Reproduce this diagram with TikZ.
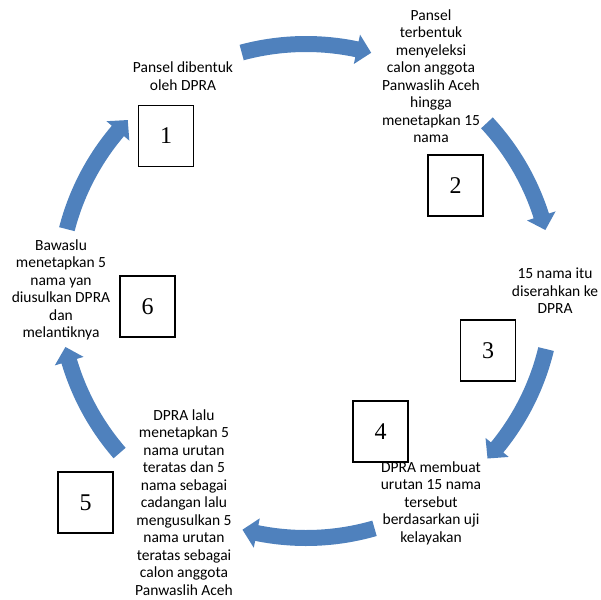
\documentclass[tikz,border=0pt]{standalone}
\usepackage{fontspec}
\setmainfont{Carlito}
\newfontfamily\numfont{Liberation Serif}
\definecolor{arrowblue}{RGB}{79,129,189}
\newcommand\cycarrow[2]{%
 \pgfmathsetmacro\ha{#2-3.4}%
 \fill[arrowblue] plot[domain=#1:\ha,samples=30] ({306+255*cos(\x)},{291+255*sin(\x)})
   -- ({306+262*cos(\ha)},{291+262*sin(\ha)})
   -- ({306+247*cos(#2)},{291+247*sin(#2)})
   -- ({306+232*cos(\ha)},{291+232*sin(\ha)})
   -- plot[domain=\ha:#1,samples=30] ({306+239*cos(\x)},{291+239*sin(\x)})
   -- cycle;}
\begin{document}
\begin{tikzpicture}[x=1pt,y=-1pt,
  txt/.style={align=center,font=\fontsize{15.5}{17.5}\selectfont,inner sep=0pt},
  numbox/.style={draw=black,line width=1.6pt,fill=white,minimum width=55pt,minimum height=61pt,inner sep=0pt,font=\numfont\fontsize{24}{28}\selectfont}]
\useasboundingbox (0,0) rectangle (601,599);
% texts
\node[txt] (t1) at (183,76) {Pansel dibentuk\\oleh DPRA};
\node[txt] (t2) at (431,76) {Pansel\\terbentuk\\menyeleksi\\calon anggota\\Panwaslih Aceh\\hingga\\menetapkan 15\\nama};
\node[txt] (t3) at (555,291) {15 nama itu\\diserahkan ke\\DPRA};
\node[txt] (t4) at (431,503) {DPRA membuat\\urutan 15 nama\\tersebut\\berdasarkan uji\\kelayakan};
\node[txt] (t5) at (184,502.5) {DPRA lalu\\menetapkan 5\\nama urutan\\teratas dan 5\\nama sebagai\\cadangan lalu\\mengusulkan 5\\nama urutan\\teratas sebagai\\calon anggota\\Panwaslih Aceh};
\node[txt] (t6) at (61,290) {Bawaslu\\menetapkan 5\\nama yan\\diusulkan DPRA\\dan\\melantiknya};
% number boxes
\node[numbox] (b1) at (166,136) {1};
\node[numbox] (b2) at (455.5,185.5) {2};
\node[numbox] (b3) at (488,350.5) {3};
\node[numbox] (b4) at (380.5,431.5) {4};
\node[numbox] (b5) at (85.5,502.5) {5};
\node[numbox] (b6) at (147.5,306.5) {6};
% cycle arrows
\cycarrow{-105.1}{-74.7}
\cycarrow{-42.9}{-14.3}
\cycarrow{13.6}{42.7}
\cycarrow{73.9}{104.9}
\cycarrow{139.0}{166.9}
\cycarrow{194.5}{223.8}
\end{tikzpicture}
\end{document}
